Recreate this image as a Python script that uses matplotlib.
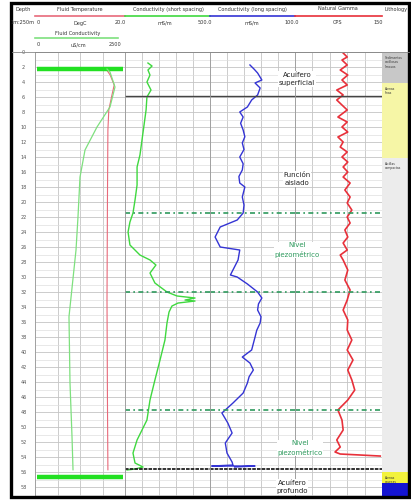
import numpy as np
import matplotlib
matplotlib.use("Agg")
import matplotlib.pyplot as plt
from matplotlib.patches import Rectangle
from matplotlib.lines import Line2D

W, H = 411, 501

temp_depth = [2.27, 3.07, 4.4, 5.73, 7.73, 10.4, 19.7, 33.1, 46.4, 55.7]
temp_val = [15.8, 16.7, 17.6, 17.1, 16.4, 16.2, 16.1, 16.0, 16.1, 16.2]

fcond_depth = [2.27, 2.67, 4.67, 7.33, 10.0, 13.07, 16.67, 22.0, 26.4, 35.3, 44.1, 51.3, 55.7]
fcond_val = [2000, 2083, 2222, 2083, 1722, 1389, 1250, 1194, 1139, 944, 972, 1028, 1056]

short_depth = [1.47, 1.87, 2.4, 3.07, 4.0, 5.07, 6.0, 7.73, 9.73, 11.73, 13.73, 15.33,
               17.73, 19.73, 21.47, 22.67, 24.0, 25.73, 27.07, 27.73, 28.4, 29.47, 30.8,
               32.0, 32.53, 32.8, 33.07, 33.2, 33.47, 33.87, 34.67, 36.13, 38.4, 41.07,
               43.73, 46.4, 49.07, 51.73, 53.47, 54.8, 55.33, 55.6, 55.73]
short_val = [135, 159, 135, 147, 129, 153, 129, 124, 112, 100, 88, 71,
             71, 59, 47, 29, 18, 29, 88, 147, 182, 147, 176,
             247, 306, 412, 353, 412, 312, 276, 259, 247, 235, 206,
             176, 147, 129, 71, 47, 59, 106, 59, 12]

long_depth = [1.73, 2.3, 2.8, 3.73, 4.13, 4.8, 5.73, 6.4, 7.33, 8.0, 8.67, 9.5, 10.4,
              11.3, 12.13, 13.0, 14.0, 14.9, 15.73, 16.6, 17.47, 18.0, 19.33, 20.4,
              21.47, 22.4, 23.33, 24.67, 26.0, 26.4, 27.73, 29.73, 30.0, 30.93, 32.0,
              32.8, 33.6, 34.4, 35.3, 36.13, 37.1, 38.0, 39.73, 40.67, 41.47, 42.4,
              43.3, 44.13, 45.47, 46.8, 47.73, 48.13, 49.47, 50.8, 52.13, 53.47,
              54.67, 55.07, 55.2, 55.2, 55.33]
long_val = [47, 52, 56, 61, 53, 59, 56, 49, 44, 35, 39, 36, 39,
            41, 38, 40, 35, 39, 38, 34, 35, 41, 38, 40,
            39, 32, 12, 6, 12, 35, 33, 24, 32, 44, 56,
            61, 57, 56, 60, 59, 55, 53, 49, 38, 47, 51,
            46, 44, 39, 27, 18, 14, 21, 26, 18, 20,
            26, 27, 2, 53, 29]

gamma_depth = [0.13, 0.67, 1.07, 1.73, 2.4, 3.07, 3.73, 4.4, 5.07, 5.73, 6.4, 7.07, 7.73,
               8.67, 9.33, 10.0, 10.67, 11.33, 12.0, 12.67, 13.33, 14.0, 14.67, 15.33,
               16.0, 16.67, 17.47, 18.4, 19.33, 20.13, 21.07, 22.0, 22.8, 23.73, 24.67,
               25.47, 26.4, 27.07, 27.73, 29.07, 30.4, 31.73, 33.07, 34.4, 35.73, 37.07,
               38.4, 39.73, 41.07, 42.4, 43.73, 45.07, 46.4, 47.73, 49.07, 50.4, 51.73,
               52.67, 53.33, 53.6, 53.73, 53.87]
gamma_val = [83, 90, 81, 90, 78, 91, 81, 90, 72, 83, 72, 81, 90,
             74, 90, 81, 91, 74, 83, 78, 90, 81, 91, 83,
             91, 83, 95, 86, 95, 90, 98, 90, 95, 86, 91,
             83, 90, 78, 83, 91, 86, 95, 90, 83, 91, 90,
             98, 90, 100, 91, 98, 103, 91, 74, 81, 83, 72,
             78, 69, 78, 112, 147]

litho_top = [0.0, 4.1, 14.1, 56.0, 57.5]
litho_base = [4.1, 14.1, 56.0, 57.5, 59.4]
litho_color = ["#c8c8c8", "#f6f6a6", "#ececec", "#f2f23c", "#1414d2"]
litho_name = ["Sedimentos\narcillosos\nlimosos", "Arenas\nfinas", "Arcillas\ncompactas",
              "Arenas\ngruesas", ""]

water_level = 5.87
bottom_depth = 55.6
piezo_depths = [21.5, 32.0, 47.7]
casing_depths = [2.27, 56.67]
depth_labels = list(range(0, 60, 2))

DMAX = 59.33


def px(x0, y0, x1, y1):
    return [x0 / W, 1 - y1 / H, (x1 - x0) / W, (y1 - y0) / H]


def fx(x):
    return x / W


def fy(y):
    return 1 - y / H


fig = plt.figure(figsize=(W / 100, H / 100), dpi=100)
fig.patch.set_facecolor("white")

tracks = [(35, 125, 4, (0, 20)), (125, 210, 5, (0, 500)),
          (210, 295, 5, (0, 100)), (295, 382, 5, (0, 150))]
axes = []
for x0, x1, ndiv, xl in tracks:
    ax = fig.add_axes(px(x0, 52, x1, 497))
    ax.set_xlim(*xl)
    ax.set_ylim(DMAX, 0)
    ax.set_xticks(np.linspace(xl[0], xl[1], ndiv + 1))
    ax.set_yticks(np.arange(0, 60, 2))
    ax.set_yticks(np.arange(1, 60, 2), minor=True)
    ax.grid(True, which="major", color="#c4c4c4", lw=0.6)
    ax.grid(True, which="minor", axis="y", color="#dedede", lw=0.5)
    ax.tick_params(which="both", length=0, labelleft=False, labelbottom=False)
    for s in ax.spines.values():
        s.set_color("#9a9a9a")
        s.set_linewidth(0.6)
    axes.append(ax)

ax1, ax2, ax3, ax4 = axes

# track 1: temperature + fluid conductivity
ax1.plot(temp_val, temp_depth, color="#e86a7a", lw=0.8)
ax1b = ax1.twiny()
ax1b.set_xlim(0, 2500)
ax1b.axis("off")
ax1b.plot(fcond_val, fcond_depth, color="#7ee07e", lw=0.9)
for d in casing_depths:
    ax1.plot([0.4, 19.6], [d, d], color="#22e022", lw=3.2, solid_capstyle="butt")

# track 2-4 curves
ax2.plot(short_val, short_depth, color="#3fd83f", lw=1.0)
ax3.plot(long_val, long_depth, color="#3434d4", lw=1.0)
ax4.plot(gamma_val, gamma_depth, color="#e8303a", lw=1.2)

for ax in (ax2, ax3, ax4):
    ax.axhline(water_level, color="#444444", lw=1.0)
    ax.axhline(bottom_depth, color="#222222", lw=1.3, ls=(0, (2, 0.6)))
    for d in piezo_depths:
        ax.axhline(d, color="#2f9a5e", lw=1.2, ls=(0, (3, 2, 1, 2)))

# depth column
axd = fig.add_axes(px(12, 52, 35, 497))
axd.set_xlim(0, 1)
axd.set_ylim(DMAX, 0)
axd.axis("off")
for d in depth_labels:
    axd.text(0.5, d, str(d), ha="center", va="center", fontsize=3.5, color="#555555")

# lithology column
axl = fig.add_axes(px(382, 52, 409, 497))
axl.set_xlim(0, 1)
axl.set_ylim(DMAX, 0)
axl.axis("off")
for t, b, c, n in zip(litho_top, litho_base, litho_color, litho_name):
    axl.axhspan(t, b, color=c, lw=0)
    axl.text(0.12, t + 0.5, n, ha="left", va="top", fontsize=2.2,
             color="#333333" if c != "#1414d2" else "white")

# header
hd = [
    ("Depth", 23, 9), ("1m:250m", 22, 23),
    ("Fluid Temperature", 80, 9), ("0", 38, 23), ("DegC", 80, 23), ("20.0", 120, 23),
    ("Conductivity (short spacing)", 168, 9), ("mS/m", 165, 23), ("500.0", 205, 23),
    ("Conductivity (long spacing)", 252, 9), ("mS/m", 252, 23), ("100.0", 292, 23),
    ("Natural Gamma", 338, 9), ("CPS", 338, 23), ("150", 378, 23),
    ("Lithology", 396, 9),
    ("Fluid Conductivity", 78, 33), ("0", 38, 45), ("uS/cm", 78, 45), ("2500", 115, 45),
]
for s, x, y in hd:
    fig.text(fx(x), fy(y), s, ha="center", va="center", fontsize=3.6, color="#333333")

for x0, x1, y, c in [(35, 125, 16, "#e86a7a"), (125, 210, 16, "#3fd83f"),
                     (210, 295, 16, "#3434d4"), (295, 382, 16, "#e8303a"),
                     (35, 118, 38, "#7ee07e")]:
    fig.add_artist(Line2D([fx(x0), fx(x1)], [fy(y), fy(y)], color=c, lw=1.2))

fig.add_artist(Line2D([fx(12), fx(409)], [fy(52), fy(52)], color="#888888", lw=0.6))

# annotations
notes = [("Acuífero\nsuperficial", 297, 79, "#222222"),
         ("Función\naislado", 297, 179, "#222222"),
         ("Nivel\npiezométrico", 297, 250, "#2f9a5e"),
         ("Nivel\npiezométrico", 300, 448, "#2f9a5e"),
         ("Acuífero\nprofundo", 292, 487, "#222222")]
for s, x, y, c in notes:
    fig.text(fx(x), fy(y), s, ha="center", va="center", fontsize=5.0, color=c,
             linespacing=1.4, bbox=dict(facecolor="white", edgecolor="none", pad=0.5))

# outer frame
fig.add_artist(Rectangle((fx(11), fy(497)), fx(409) - fx(11), fy(3) - fy(497),
                         transform=fig.transFigure, fill=False, lw=2.4, color="black"))

fig.savefig("out.png", dpi=100)
